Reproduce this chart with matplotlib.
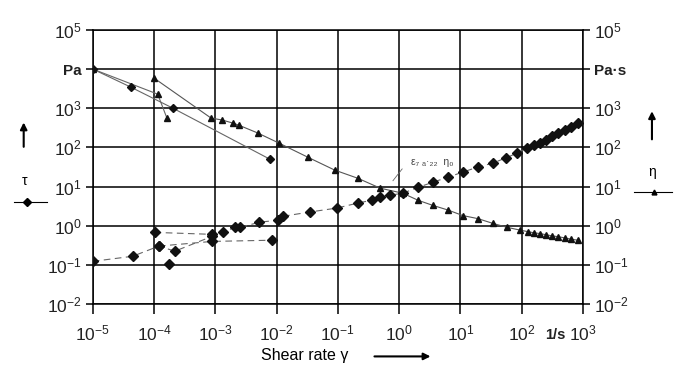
import matplotlib
matplotlib.use('Agg')
import matplotlib.pyplot as plt
import numpy as np

plt.rcParams['font.family'] = ['Liberation Sans', 'DejaVu Sans']
plt.rcParams['mathtext.fontset'] = 'custom'
plt.rcParams['mathtext.rm'] = 'Liberation Sans'
plt.rcParams['mathtext.it'] = 'Liberation Sans:italic'

# ---------------- data (log10 of values) ----------------
# viscosity eta, triangles, main sweep
eta_lx = [-4.0, -3.07, -2.89, -2.71, -2.62, -2.31, -1.96, -1.49, -1.05, -0.67,
          -0.31, 0.06, 0.31, 0.55, 0.80, 1.04, 1.29, 1.53, 1.76, 1.97, 2.10,
          2.20, 2.30, 2.40, 2.50, 2.60, 2.70, 2.80, 2.92]
eta_ly = [3.77, 2.75, 2.70, 2.62, 2.57, 2.37, 2.11, 1.75, 1.42, 1.21,
          0.96, 0.83, 0.65, 0.52, 0.40, 0.26, 0.18, 0.06, -0.04, -0.11, -0.15,
          -0.18, -0.20, -0.23, -0.26, -0.28, -0.31, -0.34, -0.37]
# second eta sweep
eta2_lx = [-5.0, -4.38, -3.69, -2.11]
eta2_ly = [4.0, 3.54, 3.0, 1.70]
# third eta sweep
eta3_lx = [-5.0, -3.94, -3.79]
eta3_ly = [4.0, 3.36, 2.75]

# shear stress tau, diamonds, main sweep
tau_lx = [-5.0, -4.35, -3.92, -3.66, -3.05, -2.88, -2.68, -2.59, -2.28, -1.98,
          -1.90, -1.46, -1.02, -0.67, -0.45, -0.31, -0.15, 0.06, 0.31, 0.55,
          0.80, 1.04, 1.29, 1.53, 1.74, 1.92, 2.08, 2.20, 2.30, 2.40, 2.50,
          2.60, 2.70, 2.80, 2.92]
tau_ly = [-0.91, -0.78, -0.52, -0.65, -0.27, -0.17, -0.04, -0.04, 0.09, 0.14,
          0.24, 0.35, 0.45, 0.58, 0.65, 0.73, 0.78, 0.83, 0.98, 1.11,
          1.24, 1.37, 1.50, 1.60, 1.73, 1.85, 1.98, 2.05, 2.12, 2.20, 2.28,
          2.36, 2.44, 2.52, 2.62]
# other tau sweeps
tau2_lx = [-3.99, -3.05]
tau2_ly = [-0.17, -0.22]
tau3_lx = [-3.92, -3.05, -2.08]
tau3_ly = [-0.52, -0.40, -0.37]
tau_extra_lx = [-3.76]
tau_extra_ly = [-0.98]

xticks_exp = [-5, -4, -3, -2, -1, 0, 1, 2, 3]
yticks_exp = [-2, -1, 0, 1, 2, 3, 4, 5]

# ---------------- figure ----------------
fig = plt.figure(figsize=(6.77, 3.74), dpi=100)
ax = fig.add_axes([0.137, 0.187, 0.724, 0.733])
ax.set_xscale('log')
ax.set_yscale('log')
ax.set_xlim(1e-5, 1e3)
ax.set_ylim(1e-2, 1e5)

p = lambda a: np.power(10.0, a)

# lines
ax.plot(p(eta_lx), p(eta_ly), color='#555555', lw=0.8, zorder=2)
ax.plot(p(eta2_lx), p(eta2_ly), color='#666666', lw=0.8, zorder=2)
ax.plot(p(eta3_lx), p(eta3_ly), color='#666666', lw=0.8, zorder=2)
ax.plot(p(tau_lx), p(tau_ly), color='#666666', lw=0.8, ls=(0, (6, 4)), zorder=2)
ax.plot(p(tau2_lx), p(tau2_ly), color='#666666', lw=0.8, ls=(0, (6, 4)), zorder=2)
ax.plot(p(tau3_lx), p(tau3_ly), color='#666666', lw=0.8, ls=(0, (6, 4)), zorder=2)

# markers
ax.plot(p(eta_lx), p(eta_ly), ls='none', marker='^', ms=4.5, color='#111111', zorder=3)
ax.plot(p(eta2_lx), p(eta2_ly), ls='none', marker='D', ms=3.8, color='#111111', zorder=3)
ax.plot(p(eta3_lx), p(eta3_ly), ls='none', marker='^', ms=4.5, color='#111111', zorder=3)
ax.plot(p(tau_lx), p(tau_ly), ls='none', marker='D', ms=5, color='#111111', zorder=3)
ax.plot(p(tau2_lx), p(tau2_ly), ls='none', marker='D', ms=5, color='#111111', zorder=3)
ax.plot(p(tau3_lx), p(tau3_ly), ls='none', marker='D', ms=5, color='#111111', zorder=3)
ax.plot(p(tau_extra_lx), p(tau_extra_ly), ls='none', marker='D', ms=5, color='#111111', zorder=3)

# grid & frame
ax.grid(True, which='major', color='black', lw=1.1)
ax.minorticks_off()
for s in ax.spines.values():
    s.set_color('black')
    s.set_linewidth(1.1)

ax.set_xticks([10.0 ** e for e in xticks_exp])
ax.set_yticks([10.0 ** e for e in yticks_exp])
xl = [r'$10^{%d}$' % e for e in xticks_exp]
yl = [r'$10^{%d}$' % e for e in yticks_exp]
yl_left = [('Pa' if e == 4 else t) for e, t in zip(yticks_exp, yl)]
yl_right = [('Pa·s' if e == 4 else t) for e, t in zip(yticks_exp, yl)]
ax.set_xticklabels(xl, fontsize=12.5, color='#222222')
ax.set_yticklabels(yl_left, fontsize=12.5, color='#222222')
ax.tick_params(axis='x', direction='out', length=7, width=1.1, pad=7)
ax.tick_params(axis='y', direction='out', length=5, width=1.1, pad=3)
for lab, e in zip(ax.get_yticklabels(), yticks_exp):
    if e == 4:
        lab.set_fontweight('bold')
        lab.set_fontsize(11)

ax2 = ax.twinx()
ax2.set_yscale('log')
ax2.set_ylim(ax.get_ylim())
ax2.minorticks_off()
ax2.set_yticks([10.0 ** e for e in yticks_exp])
ax2.set_yticklabels(yl_right, fontsize=12.5, color='#222222')
ax2.tick_params(axis='y', direction='out', length=5, width=1.1, pad=3)
for lab, e in zip(ax2.get_yticklabels(), yticks_exp):
    if e == 4:
        lab.set_fontweight('bold')
        lab.set_fontsize(11)
for s in ax2.spines.values():
    s.set_visible(False)

# unit on the x axis
ax.text(10 ** 2.55, 10 ** -2.62, '1/s', ha='center', va='top',
        fontsize=10.5, fontweight='bold', color='#222222')

# annotation near crossover
ax.text(10 ** 0.2, 10 ** 1.62, 'ε₇ ₐ·₂₂  η₀', fontsize=7.5, color='#444444', va='center')
ax.plot([10 ** -0.1, 10 ** 0.05], [10 ** 1.15, 10 ** 1.45], color='#666666', lw=0.6)

# axis labels and arrows
fig.text(0.45, 0.03, 'Shear rate γ', fontsize=11.5, ha='center', va='bottom')
fig.add_artist(matplotlib.patches.FancyArrowPatch((0.549, 0.047), (0.64, 0.047),
               transform=fig.transFigure, arrowstyle='-|>', mutation_scale=10, lw=1.5, color='black'))

# left: arrow, tau, legend symbol (diamond)
fig.add_artist(matplotlib.patches.FancyArrowPatch((0.035, 0.60), (0.035, 0.68),
               transform=fig.transFigure, arrowstyle='-|>', mutation_scale=10, lw=1.5, color='black'))
fig.text(0.037, 0.515, 'τ', fontsize=10, ha='center', va='center')
fig.add_artist(matplotlib.lines.Line2D([0.02, 0.07], [0.46, 0.46], transform=fig.transFigure,
               color='black', lw=0.8))
fig.add_artist(matplotlib.lines.Line2D([0.04], [0.46], transform=fig.transFigure,
               marker='D', ms=4, color='black'))

# right: arrow, eta, legend symbol (triangle)
fig.add_artist(matplotlib.patches.FancyArrowPatch((0.963, 0.62), (0.963, 0.71),
               transform=fig.transFigure, arrowstyle='-|>', mutation_scale=10, lw=1.5, color='black'))
fig.text(0.963, 0.54, 'η', fontsize=10, ha='center', va='center')
fig.add_artist(matplotlib.lines.Line2D([0.937, 0.993], [0.487, 0.487], transform=fig.transFigure,
               color='black', lw=0.8))
fig.add_artist(matplotlib.lines.Line2D([0.966], [0.487], transform=fig.transFigure,
               marker='^', ms=3.5, color='black'))

fig.savefig('out.png', dpi=100)
